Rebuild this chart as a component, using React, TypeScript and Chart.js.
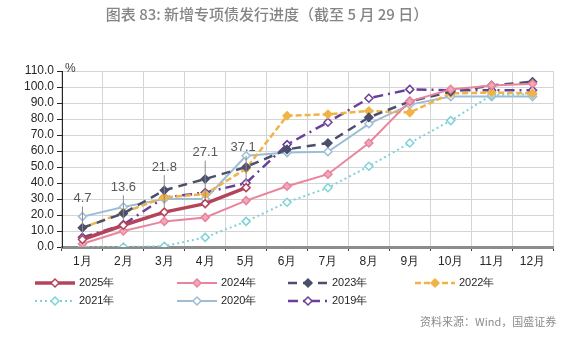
import React, { useEffect, useRef } from "react";
import { Chart, registerables } from "chart.js";

Chart.register(...registerables);

const months = ["1月", "2月", "3月", "4月", "5月", "6月", "7月", "8月", "9月", "10月", "11月", "12月"];
const s2025 = [4.7, 13.6, 21.8, 27.1, 37.1];
const s2024 = [2, 10, 16, 18.5, 29, 38, 45.5, 65, 91, 98.5, 101, 102];
const s2023 = [12, 21, 35.5, 42.5, 50, 61, 65, 81, 91, 97, 101, 103.3];
const s2022 = [12, 21.5, 31, 33, 49, 82, 83, 85, 84, 96, 96.5, 96];
const s2021 = [0, 0, 0.5, 6, 16, 28, 37, 50.5, 65, 79, 95, 95.5];
const s2020 = [19, 25, 30, 30, 57, 59, 59.5, 77, 89, 94, 94, 94];
const s2019 = [6, 14, 31, 34, 40, 64, 78, 93, 98.5, 98, 98, 98];
const labels2025 = ["4.7", "13.6", "21.8", "27.1", "37.1"];
const legendNames = ["2025年", "2024年", "2023年", "2022年", "2021年", "2020年", "2019年"];
const titleText = "图表 83: 新增专项债发行进度（截至 5 月 29 日）";
const sourceText = "资料来源：Wind，国盛证券";

const labelLift = [41, 38, 45, 51, 40];
const legendPos = [
  [35, 283], [177, 283], [288, 283], [415, 283],
  [35, 301], [177, 301], [288, 301],
];

const overlay = {
  id: "overlay",
  afterDatasetsDraw(chart: any) {
    const ctx = chart.ctx;
    const meta = chart.getDatasetMeta(0);
    ctx.save();
    ctx.font = "13px 'Liberation Sans', Arial, sans-serif";
    ctx.fillStyle = "#595959";
    ctx.textAlign = "center";
    ctx.textBaseline = "middle";
    meta.data.forEach((pt: any, i: number) => {
      const ly = pt.y - labelLift[i];
      ctx.strokeStyle = "#8c8c8c";
      ctx.lineWidth = 1;
      ctx.beginPath();
      ctx.moveTo(pt.x, ly + 8);
      ctx.lineTo(pt.x, pt.y - 5);
      ctx.stroke();
      ctx.fillText(labels2025[i], pt.x - (i === 4 ? 3 : 0), ly);
    });
    ctx.restore();
  },
  afterDraw(chart: any) {
    const ctx = chart.ctx;
    const area = chart.chartArea;
    ctx.save();
    ctx.font = "500 15px 'Noto Sans CJK SC', sans-serif";
    ctx.fillStyle = "#858585";
    ctx.textAlign = "center";
    ctx.textBaseline = "middle";
    ctx.fillText(titleText, 267, 14);
    ctx.font = "12px 'Liberation Sans', Arial, sans-serif";
    ctx.fillStyle = "#404040";
    ctx.textAlign = "left";
    ctx.fillText("%", area.left + 3, area.top - 2);
    chart.data.datasets.forEach((ds: any, i: number) => {
      const [x, y] = legendPos[i];
      ctx.save();
      ctx.strokeStyle = ds.borderColor;
      ctx.lineWidth = ds.borderWidth;
      ctx.setLineDash(ds.borderDash || []);
      ctx.beginPath();
      ctx.moveTo(x, y);
      ctx.lineTo(x + 40, y);
      ctx.stroke();
      ctx.setLineDash([]);
      const r = 4;
      ctx.beginPath();
      ctx.moveTo(x + 20, y - r);
      ctx.lineTo(x + 20 + r, y);
      ctx.lineTo(x + 20, y + r);
      ctx.lineTo(x + 20 - r, y);
      ctx.closePath();
      ctx.fillStyle = ds.pointBackgroundColor;
      ctx.fill();
      ctx.lineWidth = 1.5;
      ctx.strokeStyle = ds.pointBorderColor;
      ctx.stroke();
      ctx.restore();
      ctx.font = "11px 'Liberation Sans', Arial, sans-serif";
      ctx.fillStyle = "#262626";
      ctx.textAlign = "left";
      ctx.textBaseline = "middle";
      ctx.fillText(legendNames[i], x + 44, y);
    });
    ctx.font = "11px 'Noto Sans CJK SC', sans-serif";
    ctx.fillStyle = "#8c8c8c";
    ctx.textAlign = "left";
    ctx.fillText(sourceText, 420, 322);
    ctx.restore();
  },
};

function series(label: string, data: number[], color: string, width: number, dash: number[], fill: string) {
  return {
    label,
    data,
    borderColor: color,
    borderWidth: width,
    borderDash: dash,
    pointStyle: "rectRot",
    pointRadius: 4,
    pointBorderWidth: 1.5,
    pointBorderColor: color,
    pointBackgroundColor: fill,
    tension: 0,
    fill: false,
  };
}

export default function App() {
  const ref = useRef<HTMLCanvasElement>(null);
  useEffect(() => {
    const chart = new Chart(ref.current as HTMLCanvasElement, {
      type: "line",
      data: {
        labels: months,
        datasets: [
          series("2025年", s2025, "#b4445a", 3.5, [], "#ffffff"),
          series("2024年", s2024, "#e9849d", 2, [], "#f2a8ba"),
          series("2023年", s2023, "#4b4f6e", 2.5, [9, 6], "#4b4f6e"),
          series("2022年", s2022, "#f0b347", 2.5, [6, 3], "#f0b347"),
          series("2021年", s2021, "#7fd3d8", 2, [2, 3], "#ffffff"),
          series("2020年", s2020, "#9dbdd6", 2, [], "#ffffff"),
          series("2019年", s2019, "#6a3f98", 2.5, [10, 5, 2, 5], "#ffffff"),
        ] as any,
      },
      options: {
        responsive: false,
        animation: false,
        layout: { padding: { left: 0, right: 25, top: 71, bottom: 65 } },
        plugins: { legend: { display: false }, title: { display: false }, tooltip: { enabled: false } },
        scales: {
          x: {
            offset: true,
            afterFit: (s: any) => { s.height = 25; },
            grid: { offset: true, color: "#d4d4d4", tickColor: "#404040", tickLength: 4, drawOnChartArea: true },
            border: { color: "#8c8c8c", width: 3 },
            ticks: { color: "#262626", font: { size: 12, family: "'Liberation Sans', Arial, sans-serif" }, padding: 3 },
          },
          y: {
            min: 0,
            max: 110,
            afterFit: (s: any) => { s.width = 62; },
            grid: { color: "#d4d4d4", tickColor: "#262626", tickLength: 5 },
            border: { color: "#262626", width: 1 },
            ticks: {
              stepSize: 10,
              autoSkip: false,
              color: "#262626",
              font: { size: 12, family: "'Liberation Sans', Arial, sans-serif" },
              padding: 3,
              callback: (v: any) => Number(v).toFixed(1),
            },
          },
        },
      },
      plugins: [overlay],
    });
    return () => chart.destroy();
  }, []);
  return (
    <div style={{ position: "absolute", left: 0, top: 0, width: 578, height: 337, background: "#fff" }}>
      <canvas ref={ref} width={578} height={337} />
    </div>
  );
}
